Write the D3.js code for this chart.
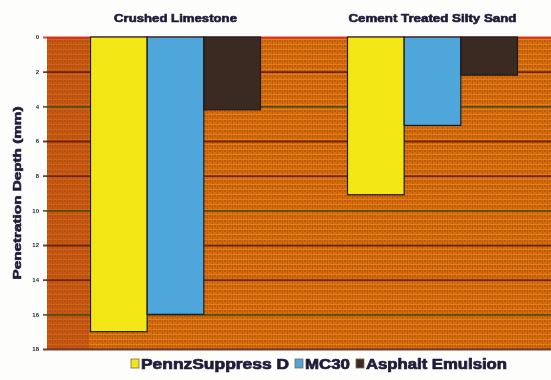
<!DOCTYPE html>
<html>
<head>
<meta charset="utf-8">
<script src="https://cdn.jsdelivr.net/npm/d3@7"></script>
<style>
  html, body { margin: 0; padding: 0; background: #fdfdfb; }
  svg { display: block; }
  text { font-family: "Liberation Sans", Arial, sans-serif; }
</style>
</head>
<body>
<svg id="chart" width="551" height="380"></svg>
<script>
// Penetration depth (mm) by surface type and treatment
const groups = ["Crushed Limestone", "Cement Treated Silty Sand"];
const series = ["PennzSuppress D", "MC30", "Asphalt Emulsion"];
const pennzSuppress = [17.0, 9.1];
const mc30 = [16.0, 5.1];
const asphaltEmulsion = [4.2, 2.2];
const yTicks = [0, 2, 4, 6, 8, 10, 12, 14, 16, 18];
const seriesValues = [pennzSuppress, mc30, asphaltEmulsion];
const colors = ["#f2e614", "#4fa6da", "#3b2a22"];

const svg = d3.select("#chart");
const margin = { top: 37, left: 47 };
const plotW = 514, plotH = 312;

// dotted orange fill for the plot background
const defs = svg.append("defs");
const pat = defs.append("pattern")
  .attr("id", "weave").attr("width", 5).attr("height", 5)
  .attr("patternUnits", "userSpaceOnUse");
pat.append("rect").attr("width", 5).attr("height", 5).attr("fill", "#d66c0c");
pat.append("rect").attr("x", 0).attr("y", 0).attr("width", 1).attr("height", 5).attr("fill", "#c05a0a");
pat.append("rect").attr("x", 0).attr("y", 2).attr("width", 5).attr("height", 1).attr("fill", "#e0801a");
pat.append("circle").attr("cx", 3).attr("cy", 4).attr("r", 0.8).attr("fill", "#984808");

const shadow = defs.append("filter").attr("id", "soft");
shadow.append("feGaussianBlur").attr("stdDeviation", 0.35);

const g = svg.append("g").attr("transform", `translate(${margin.left},${margin.top})`);

const x0 = d3.scaleBand().domain(groups).range([0, plotW]).paddingInner(0).paddingOuter(0);
const x1 = d3.scaleBand().domain(series).range([0, 170]).padding(0);
const y = d3.scaleLinear().domain([0, 18]).range([0, plotH]);

g.append("rect").attr("width", plotW).attr("height", plotH).attr("fill", "url(#weave)");
// slightly redder band along the left of the plot
g.append("rect").attr("width", 42).attr("height", plotH).attr("fill", "#b03c1a").attr("opacity", 0.4);

// gridlines and tick labels
const yAxis = d3.axisLeft(y).tickValues(yTicks).tickSizeInner(-plotW - 4).tickSizeOuter(0).tickPadding(4);
const ax = g.append("g").attr("transform", "translate(-4,0)").call(yAxis);
ax.select(".domain").remove();
ax.selectAll(".tick line")
  .attr("stroke", (d, i) => (i % 3 === 2 ? "#3f4a14" : "#5a1c10"))
  .attr("stroke-width", 1.8)
  .attr("stroke-opacity", 0.85);
ax.selectAll(".tick").filter(d => d === 0).select("line").attr("stroke", "#d8261a");
ax.selectAll(".tick text")
  .attr("fill", "#2a2a30")
  .attr("font-size", 6)
  .attr("font-weight", "bold")
  .attr("x", -4)
  .attr("filter", "url(#soft)");

// bars
const grp = g.selectAll(".grp").data(groups).enter().append("g")
  .attr("transform", d => `translate(${x0(d) + (x0.bandwidth() - 170) / 2},0)`);
grp.selectAll("rect.bar")
  .data((d, gi) => series.map((s, si) => ({ s, v: seriesValues[si][gi], c: colors[si] })))
  .enter().append("rect")
  .attr("class", "bar")
  .attr("x", d => x1(d.s))
  .attr("y", y(0))
  .attr("width", x1.bandwidth())
  .attr("height", d => y(d.v) - y(0))
  .attr("fill", d => d.c)
  .attr("stroke", "#1e1a1c")
  .attr("stroke-width", 1.2);

// heavy text helper: bold glyphs thickened with a same-colour stroke
function heavy(sel, w) {
  return sel.attr("font-weight", "bold")
    .attr("fill", "#1e1c3a")
    .attr("stroke", "#1e1c3a")
    .attr("stroke-width", w)
    .attr("stroke-linejoin", "round")
    .attr("lengthAdjust", "spacingAndGlyphs")
    .attr("filter", "url(#soft)");
}

// group titles above the plot
heavy(svg.selectAll(".gtitle").data(groups).enter().append("text")
  .attr("x", d => margin.left + x0(d) + x0.bandwidth() / 2)
  .attr("y", 22)
  .attr("text-anchor", "middle")
  .attr("font-size", 11)
  .attr("textLength", (d, i) => (i === 0 ? 123 : 168)), 0.6)
  .text(d => d);

// y-axis title
heavy(svg.append("text")
  .attr("transform", `translate(21,${margin.top + plotH / 2}) rotate(-90)`)
  .attr("text-anchor", "middle")
  .attr("font-size", 11)
  .attr("textLength", 173), 0.6)
  .text("Penetration Depth (mm)");

// legend
const legendX = [131, 295, 356];
const legendW = [148, 45, 141];
const leg = svg.selectAll(".leg").data(series).enter().append("g")
  .attr("transform", (d, i) => `translate(${legendX[i]},359)`);
leg.append("rect")
  .attr("width", 8).attr("height", 9)
  .attr("fill", (d, i) => colors[i])
  .attr("stroke", "#7a6a50").attr("stroke-width", 0.8);
heavy(leg.append("text")
  .attr("x", 10).attr("y", 10)
  .attr("font-size", 14)
  .attr("textLength", (d, i) => legendW[i]), 0.7)
  .text(d => d);
</script>
</body>
</html>
